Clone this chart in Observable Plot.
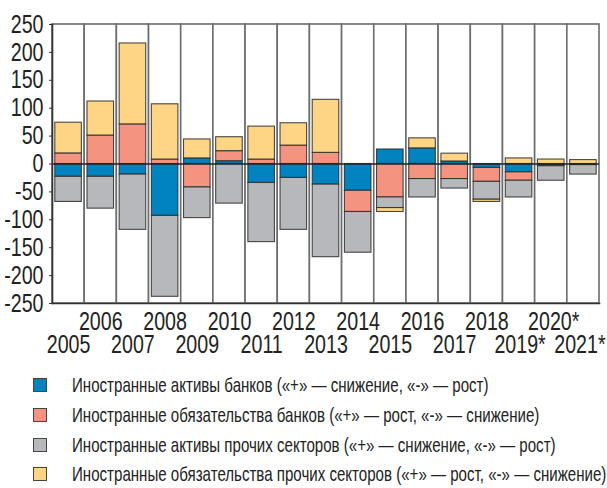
<!DOCTYPE html>
<html><head><meta charset="utf-8">
<script src="https://cdn.jsdelivr.net/npm/d3@7"></script>
<script src="https://cdn.jsdelivr.net/npm/@observablehq/plot@0.6"></script>
<style>
body{margin:0;background:#fff;font-family:"Liberation Sans Narrow","Liberation Sans",sans-serif;overflow:hidden;}
#chart svg{display:block;}
#legend{position:absolute;left:0;top:370px;width:607px;}
.row{position:relative;height:29.8px;white-space:nowrap;}
.sw{position:absolute;left:33px;top:8px;width:14px;height:14px;border:1px solid #444;box-sizing:border-box;}
.lt{position:absolute;left:72px;top:2px;font-size:21px;line-height:26px;color:#222;transform:scaleX(0.718);transform-origin:0 0;}
</style></head><body>
<div id="chart"></div>
<div id="legend"></div>
<script>
const years = ["2005","2006","2007","2008","2009","2010","2011","2012","2013","2014","2015","2016","2017","2018","2019*","2020*","2021*"];
const seriesNames = [
  "Иностранные активы банков («+» — снижение, «-» — рост)",
  "Иностранные обязательства банков («+» — рост, «-» — снижение)",
  "Иностранные активы прочих секторов («+» — снижение, «-» — рост)",
  "Иностранные обязательства прочих секторов («+» — рост, «-» — снижение)"
];
const colors = ["#0083be", "#f4937f", "#b7b8bc", "#fed585"];
const bankAssets  = [-23, -23, -19, -93, 10, 5, -34, -25, -37, -48, 26, 28, 4.5, -7, -15, -2, -2];
const bankLiab    = [19, 51, 71, 8, -42, 18, 8, 33, 20, -38, -60, -27, -27, -25, -15, -2, 0];
const otherAssets = [-45, -57, -99, -145, -55, -71, -106, -93, -130, -73, -19, -33, -17, -32, -30, -26, -17];
const otherLiab   = [55, 61, 145, 99, 34, 25, 59, 40, 95, 0, -7, 18, 14, -4, 10, 8, 7];
const yTicks = [-250, -200, -150, -100, -50, 0, 50, 100, 150, 200, 250];

const seriesValues = [bankAssets, bankLiab, otherAssets, otherLiab];
const data = years.flatMap((y, i) => seriesValues.map((vals, s) => ({year: y, series: seriesNames[s], value: vals[i]})));

const W = 607, ML = 52, MR = 8, MT = 24, MB = 60;
const lastYear = years[years.length - 1];
const topRow = years.filter((d, i) => i % 2 === 1);
const botRow = years.filter((d, i) => i % 2 === 0 && d !== lastYear);
const star = d => d.endsWith("*");
const FS = 25.5;
const yMin = yTicks[0], yMax = yTicks[yTicks.length - 1];

const chart = Plot.plot({
  width: W, height: MT + 279 + MB,
  marginLeft: ML, marginRight: MR, marginTop: MT, marginBottom: MB,
  style: {fontFamily: '"Liberation Sans Narrow","Liberation Sans",sans-serif', background: "#fff", color: "#222"},
  x: {type: "band", domain: years, padding: 0, round: false, axis: null},
  y: {domain: [yMin, yMax], axis: null},
  color: {domain: seriesNames, range: colors},
  marks: [
    Plot.barY(years, {x: d => d, y1: yMin, y2: yMax, fill: "white", stroke: "#6c6c6c", strokeWidth: 1.6}),
    Plot.barY(data, Plot.stackY({x: "year", y: "value", fill: "series", insetLeft: 2.8, insetRight: 2.8, stroke: "#2a2a2a", strokeWidth: 1.1, strokeOpacity: 0.85})),
    Plot.ruleY([0], {stroke: "#222", strokeWidth: 1.4}),
    Plot.frame({anchor: "left", stroke: "#333", strokeWidth: 1.6}),
    Plot.frame({anchor: "bottom", stroke: "#333", strokeWidth: 1.6}),
    Plot.axisY({ticks: yTicks, tickSize: 3, tickPadding: 6, fontSize: FS, label: null, tickFormat: d => String(d), stroke: "#333"}),
    Plot.text(topRow.filter(d => !star(d)), {x: d => d, text: d => d, frameAnchor: "bottom", dy: 26, fontSize: FS, fill: "#222"}),
    Plot.text(topRow.filter(star), {x: d => d, text: d => d, frameAnchor: "bottom", dy: 26, dx: 2.5, fontSize: FS, fill: "#222"}),
    Plot.text(botRow.filter(d => !star(d)), {x: d => d, text: d => d, frameAnchor: "bottom", dy: 49, fontSize: FS, fill: "#222"}),
    Plot.text(botRow.filter(star), {x: d => d, text: d => d, frameAnchor: "bottom", dy: 49, dx: 1, fontSize: FS, fill: "#222"}),
    Plot.text([lastYear], {x: d => d, text: d => d, frameAnchor: "bottom", dy: 49, dx: -3.5, fontSize: FS, fill: "#222"})
  ]
});
// condense the tick labels horizontally around their anchor
chart.querySelectorAll("text").forEach(t => {
  const tr = t.getAttribute("transform") || "";
  t.setAttribute("transform", tr + " scale(0.77,1)");
});
document.getElementById("chart").appendChild(chart);

const legend = document.getElementById("legend");
seriesNames.forEach((name, i) => {
  const row = document.createElement("div");
  row.className = "row";
  row.innerHTML = `<div class="sw" style="background:${colors[i]}"></div><div class="lt">${name}</div>`;
  legend.appendChild(row);
});
</script>
</body></html>
